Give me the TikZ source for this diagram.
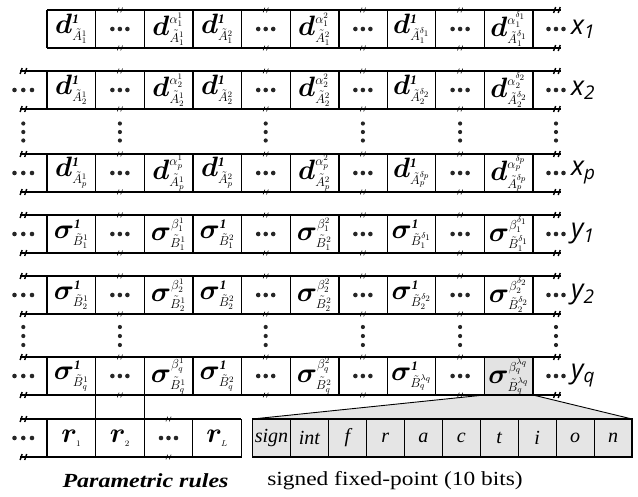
\RequirePackage{fix-cm}
\documentclass[tikz,border=0pt]{standalone}
\usepackage{amsmath}
\usepackage{bm}
\usepackage{fontspec}
\setmainfont{Liberation Serif}
\newfontfamily\lblfont{Open Sans}
\DeclareMathSizes{28}{28}{13}{8.5}
\usetikzlibrary{calc}
\pgfdeclarelayer{bg}
\pgfsetlayers{bg,main}
\tikzset{
  cellbox/.style={draw, line width=0.9pt, minimum width=48.6pt, minimum height=38pt,
    inner sep=0pt, outer sep=0pt, anchor=north west, font=\fontsize{28}{30}\selectfont},
  bitcell/.style={draw, line width=0.9pt, fill=gray!20, minimum width=37.95pt, minimum height=38pt,
    inner sep=0pt, outer sep=0pt, anchor=north west, font=\fontsize{20}{22}\selectfont\itshape},
  shaded/.style={fill=gray!22},
  rail/.style={line width=1.8pt},
  thinline/.style={line width=0.9pt},
  lbl/.style={anchor=west, font=\fontsize{27}{30}\selectfont\lblfont\itshape, inner sep=0pt},
  dotf/.style={fill=black!85},
  brksmall/.pic={\draw[line width=0.6pt] (-2.6,2.4)--(-0.8,-2.4) (0.8,2.4)--(2.6,-2.4);},
  brkbig/.pic={\draw[line width=1.4pt] (-3.4,3)--(-1.4,-3) (1.2,3)--(3.2,-3);},
}
\newcommand{\one}{\text{\bfseries\itshape 1}}
\newcommand{\hdts}[1]{\fill[dotf] ([xshift=-7.5pt]#1.center) circle (2.3pt) (#1.center) circle (2.3pt) ([xshift=7.5pt]#1.center) circle (2.3pt);}
\newcommand{\mkrow}[9]{%
  \node[cellbox] (#1c1) at (47,#2) {$\bm{#3}^{\one}_{\tilde{#4}^{1}_{#6}}$};
  \node[cellbox] (#1c2) at (95.6,#2) {};
  \node[cellbox] (#1c3) at (144.2,#2) {$\bm{#3}^{#5^{1}_{#6}}_{\tilde{#4}^{1}_{#6}}$};
  \node[cellbox] (#1c4) at (192.8,#2) {$\bm{#3}^{\one}_{\tilde{#4}^{2}_{#6}}$};
  \node[cellbox] (#1c5) at (241.4,#2) {};
  \node[cellbox] (#1c6) at (290,#2) {$\bm{#3}^{#5^{2}_{#6}}_{\tilde{#4}^{2}_{#6}}$};
  \node[cellbox] (#1c7) at (338.6,#2) {};
  \node[cellbox] (#1c8) at (387.2,#2) {$\bm{#3}^{\one}_{\tilde{#4}^{#7}_{#6}}$};
  \node[cellbox] (#1c9) at (435.8,#2) {};
  \node[cellbox,#9] (#1c10) at (484.4,#2) {$\bm{#3}^{#5^{#7}_{#6}}_{\tilde{#4}^{#7}_{#6}}$};
  \hdts{#1c2}\hdts{#1c5}\hdts{#1c7}\hdts{#1c9}
  \foreach \k in {2,5,7,9}{\pic at (#1c\k.north) {brksmall}; \pic at (#1c\k.south) {brksmall};}
  \coordinate (#1te) at (561,#2);
  \coordinate (#1be) at (561,{#2+38});
  \draw[rail] (#1c1.north west) -- (#1te);
  \draw[rail] (#1c1.south west) -- (#1be);
  \draw[rail] (#1c1.north west) -- (#1c1.south west) (#1c4.north west) -- (#1c4.south west)
    (#1c7.north west) -- (#1c7.south west) (#1c10.north east) -- (#1c10.south east);
  \pic at (557,#2) {brkbig};
  \pic at (557,{#2+38}) {brkbig};
  \fill[dotf] (548.5,{#2+19}) circle (2.3pt) (556,{#2+19}) circle (2.3pt) (563.5,{#2+19}) circle (2.3pt);
  \node[lbl] (#1lab) at (571,{#2+19}) {#8};
}
\newcommand{\mklead}[2]{%
  \coordinate (#1ts) at (20,#2);
  \coordinate (#1bs) at (20,{#2+38});
  \draw[rail] (#1ts) -- (#1c1.north west);
  \draw[rail] (#1bs) -- (#1c1.south west);
  \pic at (23.5,#2) {brkbig};
  \pic at (23.5,{#2+38}) {brkbig};
  \fill[dotf] (14.5,{#2+19}) circle (2.3pt) (23.3,{#2+19}) circle (2.3pt) (32,{#2+19}) circle (2.3pt);
}
\begin{document}
\begin{tikzpicture}[x=1pt,y=-1pt]
\useasboundingbox (0,0) rectangle (638,496);

\mkrow{ra}{10}{d}{A}{\alpha}{1}{\delta_1}{x\textsubscript{1}}{}
\mkrow{rb}{71}{d}{A}{\alpha}{2}{\delta_2}{x\textsubscript{2}}{}
\mklead{rb}{71}
\mkrow{rp}{154}{d}{A}{\alpha}{p}{\delta_p}{x\textsubscript{p}}{}
\mklead{rp}{154}
\mkrow{rc}{215}{\sigma}{B}{\beta}{1}{\delta_1}{y\textsubscript{1}}{}
\mklead{rc}{215}
\mkrow{rd}{276}{\sigma}{B}{\beta}{2}{\delta_2}{y\textsubscript{2}}{}
\mklead{rd}{276}
\mkrow{rq}{357}{\sigma}{B}{\beta}{q}{\lambda_q}{y\textsubscript{q}}{shaded}
\mklead{rq}{357}

% vertical dots
\foreach \xx in {23.3,119.9,265.7,362.9,460.1,556} {
  \fill[dotf] (\xx,123.5) circle (2.1pt) (\xx,132) circle (2.1pt) (\xx,140.5) circle (2.1pt);
  \fill[dotf] (\xx,327) circle (2.1pt) (\xx,336) circle (2.1pt) (\xx,345) circle (2.1pt);
}

% parametric rules row
\node[cellbox] (rr1) at (47,419) {$\bm{r}_{\scriptscriptstyle 1}$};
\node[cellbox] (rr2) at (95.6,419) {$\bm{r}_{\scriptscriptstyle 2}$};
\node[cellbox] (rr3) at (144.2,419) {};
\node[cellbox] (rr4) at (192.8,419) {$\bm{r}_{\scriptscriptstyle L}$};
\hdts{rr3}
\pic at (rr3.north) {brksmall};
\pic at (rr3.south) {brksmall};
\coordinate (rrts) at (20,419);
\coordinate (rrbs) at (20,457);
\draw[rail] (rrts) -- (rr4.north east);
\draw[rail] (rrbs) -- (rr4.south east);
\draw[rail] (rr1.north west) -- (rr1.south west) (rr4.north east) -- (rr4.south east);
\pic at (23.5,419) {brkbig};
\pic at (23.5,457) {brkbig};
\fill[dotf] (14.5,438) circle (2.3pt) (23.3,438) circle (2.3pt) (32,438) circle (2.3pt);
\draw[thinline] (rqc2.south west) -- (rr2.north west);
\draw[thinline] (rqc3.south west) -- (rr3.north west);

% fixed-point box
\foreach \k/\t in {1/sign,2/int,3/f,4/r,5/a,6/c,7/t,8/i,9/o,10/n}{
  \node[bitcell] (fp\k) at ({252.5+37.95*(\k-1)},419) {\t};
}
\draw[rail] (fp1.north west) rectangle (fp10.south east);

\begin{pgfonlayer}{bg}
  \fill[gray!20] (rqc10.south west) -- (fp1.north west) -- (fp10.north east) -- (rqc10.south east) -- cycle;
\end{pgfonlayer}
\draw[thinline] (rqc10.south west) -- (fp1.north west);
\draw[thinline] (rqc10.south east) -- (fp10.north east);

\node[font=\fontsize{20}{22}\selectfont\bfseries\itshape] (ptitle) at (145.5,481) {\scalebox{1.2}[1]{Parametric rules}};
\node[font=\fontsize{20}{22}\selectfont] (stitle) at (395,481) {\scalebox{1.17}[1]{signed fixed-point (10 bits)}};
\end{tikzpicture}
\end{document}
